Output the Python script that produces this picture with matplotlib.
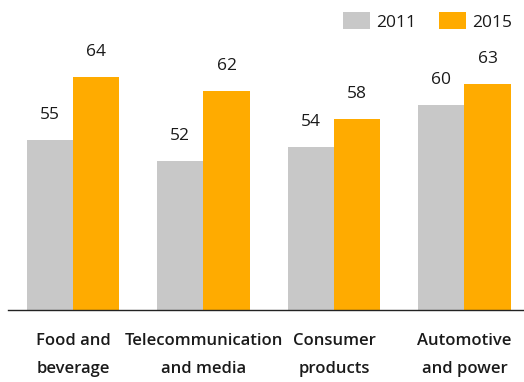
import matplotlib
matplotlib.use("Agg")
import matplotlib.pyplot as plt
from matplotlib.patches import Patch
import numpy as np

categories = ["Food and\nbeverage", "Telecommunication\nand media",
              "Consumer\nproducts", "Automotive\nand power"]
series_names = ["2011", "2015"]
values_2011 = [55, 52, 54, 60]
values_2015 = [64, 62, 58, 63]

colors = ["#c8c8c8", "#ffab00"]
text_color = "#1a1a1a"

plt.rcParams["font.family"] = ["Open Sans", "DejaVu Sans"]

fig = plt.figure(figsize=(5.24, 3.82), dpi=100)
ax = fig.add_axes([8 / 524, 1 - 309.7 / 382, 1 - 8 / 524, 309.7 / 382])

x = np.arange(len(categories))
width = 0.356
bars_a = ax.bar(x - width / 2, values_2011, width, color=colors[0], zorder=2)
bars_b = ax.bar(x + width / 2, values_2015, width, color=colors[1], zorder=2)

for bars, vals in ((bars_a, values_2011), (bars_b, values_2015)):
    for b, v in zip(bars, vals):
        ax.annotate(f"{v}", (b.get_x() + b.get_width() / 2, v),
                    xytext=(0, 18), textcoords="offset points",
                    ha="center", va="center", fontsize=12.5, color=text_color)

ax.set_xlim(-0.498, 3.456)
ax.set_ylim(30.7, 30.7 + 309.7 / 7.0)

for s in ("top", "right", "left"):
    ax.spines[s].set_visible(False)
ax.spines["bottom"].set_color("#222222")
ax.spines["bottom"].set_linewidth(1.0)
ax.set_yticks([])
ax.set_xticks(x)
ax.set_xticklabels(categories, fontsize=12, fontweight="semibold",
                   color=text_color, linespacing=2.0)
ax.tick_params(axis="x", length=0, pad=17)

handles = [Patch(facecolor=c, edgecolor="none") for c in colors]
fig.legend(handles, series_names, loc="upper right", bbox_to_anchor=(1.0, 1.0),
           ncol=2, frameon=False, fontsize=12.5, handlelength=1.55,
           handleheight=1.15, handletextpad=0.35, columnspacing=1.3,
           borderaxespad=0.3, labelcolor=text_color)

fig.savefig("out.png", dpi=100)
